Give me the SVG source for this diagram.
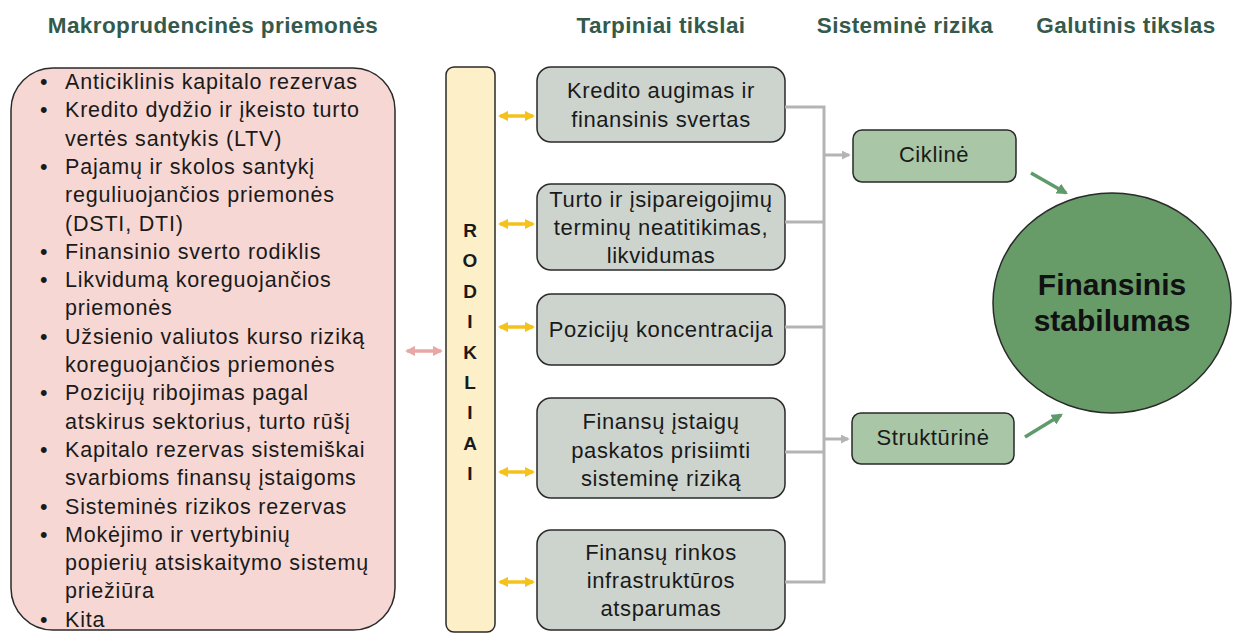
<svg xmlns="http://www.w3.org/2000/svg" width="1233" height="633" viewBox="0 0 1233 633">
<style>
.hdr{font-family:"Liberation Sans",Arial,sans-serif;font-weight:bold;font-size:22.5px;letter-spacing:0.4px;fill:#35594b;text-anchor:middle}
.lst{font-family:"Liberation Sans",Arial,sans-serif;font-size:21.5px;letter-spacing:0.8px;fill:#1a1a1a}
.mid{font-family:"Liberation Sans",Arial,sans-serif;font-size:22px;letter-spacing:0.6px;fill:#1a1a1a;text-anchor:middle}
.rod{font-family:"Liberation Sans",Arial,sans-serif;font-weight:bold;font-size:19px;fill:#1a1a1a;text-anchor:middle}
.big{font-family:"Liberation Sans",Arial,sans-serif;font-weight:bold;font-size:30px;fill:#111;text-anchor:middle}
.box{fill:#cdd4ce;stroke:#2a2a2a;stroke-width:1.5}
.grn{fill:#a9c6a7;stroke:#2a2a2a;stroke-width:1.5}
.gl{stroke:#b3b5b3;stroke-width:3;fill:none}
.ya{stroke:#f4c21a;stroke-width:3.5;fill:none}
</style>
<defs>
<marker id="ay" viewBox="0 0 10 10" refX="8" refY="5" markerWidth="3" markerHeight="3" orient="auto-start-reverse"><path d="M0,0 L10,5 L0,10 z" fill="#f4c21a"/></marker>
<marker id="ap" viewBox="0 0 10 10" refX="8" refY="5" markerWidth="3" markerHeight="3" orient="auto-start-reverse"><path d="M0,0 L10,5 L0,10 z" fill="#e8a9a6"/></marker>
<marker id="ag" viewBox="0 0 10 10" refX="8" refY="5" markerWidth="3" markerHeight="3" orient="auto"><path d="M0,0 L10,5 L0,10 z" fill="#b3b5b3"/></marker>
<marker id="ad" viewBox="0 0 10 10" refX="8" refY="5" markerWidth="3.2" markerHeight="3.2" orient="auto"><path d="M0,0 L10,5 L0,10 z" fill="#5f9a6b"/></marker>
</defs>
<rect width="1233" height="633" fill="#ffffff"/>
<g id="headers">
<text class="hdr" x="213" y="33">Makroprudencinės priemonės</text>
<text class="hdr" x="661" y="33">Tarpiniai tikslai</text>
<text class="hdr" x="905" y="33">Sisteminė rizika</text>
<text class="hdr" x="1126" y="33">Galutinis tikslas</text>
</g>
<g id="instruments">
<rect x="11" y="68" width="384" height="562" rx="42" fill="#f6d7d3" stroke="#2a2a2a" stroke-width="1.5"/>
<g class="lst">
<text x="40" y="89">•</text><text x="65" y="89">Anticiklinis kapitalo rezervas</text>
<text x="40" y="117.3">•</text><text x="65" y="117.3">Kredito dydžio ir įkeisto turto</text>
<text x="65" y="145.6">vertės santykis (LTV)</text>
<text x="40" y="173.9">•</text><text x="65" y="173.9">Pajamų ir skolos santykį</text>
<text x="65" y="202.2">reguliuojančios priemonės</text>
<text x="65" y="230.5">(DSTI, DTI)</text>
<text x="40" y="258.8">•</text><text x="65" y="258.8">Finansinio sverto rodiklis</text>
<text x="40" y="287.1">•</text><text x="65" y="287.1">Likvidumą koreguojančios</text>
<text x="65" y="315.4">priemonės</text>
<text x="40" y="343.7">•</text><text x="65" y="343.7">Užsienio valiutos kurso riziką</text>
<text x="65" y="372">koreguojančios priemonės</text>
<text x="40" y="400.3">•</text><text x="65" y="400.3">Pozicijų ribojimas pagal</text>
<text x="65" y="428.6">atskirus sektorius, turto rūšį</text>
<text x="40" y="456.9">•</text><text x="65" y="456.9">Kapitalo rezervas sistemiškai</text>
<text x="65" y="485.2">svarbioms finansų įstaigoms</text>
<text x="40" y="513.5">•</text><text x="65" y="513.5">Sisteminės rizikos rezervas</text>
<text x="40" y="541.8">•</text><text x="65" y="541.8">Mokėjimo ir vertybinių</text>
<text x="65" y="570.1">popierių atsiskaitymo sistemų</text>
<text x="65" y="598.4">priežiūra</text>
<text x="40" y="626.7">•</text><text x="65" y="626.7">Kita</text>
</g>
</g>
<g id="rodikliai">
<rect x="446" y="67" width="49" height="565" rx="8" fill="#fdf0c9" stroke="#2a2a2a" stroke-width="1.5"/>
<text class="rod" x="470" y="237">R</text>
<text class="rod" x="470" y="267.4">O</text>
<text class="rod" x="470" y="297.8">D</text>
<text class="rod" x="470" y="328.2">I</text>
<text class="rod" x="470" y="358.6">K</text>
<text class="rod" x="470" y="389">L</text>
<text class="rod" x="470" y="419.4">I</text>
<text class="rod" x="470" y="449.8">A</text>
<text class="rod" x="470" y="480.2">I</text>
</g>
<g id="goal1">
<rect class="box" x="537" y="67" width="248" height="75" rx="14"/>
<text class="mid" x="661" y="98">Kredito augimas ir</text>
<text class="mid" x="661" y="127">finansinis svertas</text>
</g>
<g id="goal2">
<rect class="box" x="537" y="184" width="248" height="86" rx="14"/>
<text class="mid" x="661" y="207">Turto ir įsipareigojimų</text>
<text class="mid" x="661" y="235">terminų neatitikimas,</text>
<text class="mid" x="661" y="263">likvidumas</text>
</g>
<g id="goal3">
<rect class="box" x="537" y="294" width="248" height="71" rx="14"/>
<text class="mid" x="661" y="337">Pozicijų koncentracija</text>
</g>
<g id="goal4">
<rect class="box" x="537" y="398" width="248" height="100" rx="14"/>
<text class="mid" x="661" y="429">Finansų įstaigų</text>
<text class="mid" x="661" y="458">paskatos prisiimti</text>
<text class="mid" x="661" y="486">sisteminę riziką</text>
</g>
<g id="goal5">
<rect class="box" x="537" y="530" width="248" height="100" rx="14"/>
<text class="mid" x="661" y="560">Finansų rinkos</text>
<text class="mid" x="661" y="588">infrastruktūros</text>
<text class="mid" x="661" y="616">atsparumas</text>
</g>
<g id="cikline">
<rect class="grn" x="853" y="130" width="163" height="52" rx="9"/>
<text class="mid" x="934" y="162">Ciklinė</text>
</g>
<g id="strukturine">
<rect class="grn" x="852" y="413" width="162" height="51" rx="9"/>
<text class="mid" x="933" y="445">Struktūrinė</text>
</g>
<g id="stability">
<ellipse cx="1112" cy="303" rx="119" ry="110" fill="#679b68" stroke="#2a2a2a" stroke-width="1.5"/>
<text class="big" x="1112" y="295">Finansinis</text>
<text class="big" x="1112" y="331">stabilumas</text>
</g>
<g id="connectors">
<line x1="407" y1="351" x2="441" y2="351" stroke="#e8a9a6" stroke-width="3.5" marker-start="url(#ap)" marker-end="url(#ap)"/>
<line class="ya" x1="500" y1="116" x2="533" y2="116" marker-start="url(#ay)" marker-end="url(#ay)"/>
<line class="ya" x1="500" y1="224" x2="533" y2="224" marker-start="url(#ay)" marker-end="url(#ay)"/>
<line class="ya" x1="500" y1="327" x2="533" y2="327" marker-start="url(#ay)" marker-end="url(#ay)"/>
<line class="ya" x1="500" y1="472" x2="533" y2="472" marker-start="url(#ay)" marker-end="url(#ay)"/>
<line class="ya" x1="500" y1="582" x2="533" y2="582" marker-start="url(#ay)" marker-end="url(#ay)"/>
<path class="gl" d="M785,107 H824 V582 H785"/>
<path class="gl" d="M785,222 H824"/>
<path class="gl" d="M785,327 H824"/>
<path class="gl" d="M785,452 H824"/>
<line class="gl" x1="824" y1="155" x2="849" y2="155" marker-end="url(#ag)"/>
<line class="gl" x1="824" y1="439" x2="848" y2="439" marker-end="url(#ag)"/>
<line x1="1031" y1="173" x2="1066" y2="193" stroke="#5f9a6b" stroke-width="3.5" marker-end="url(#ad)"/>
<line x1="1025" y1="437" x2="1061" y2="415" stroke="#5f9a6b" stroke-width="3.5" marker-end="url(#ad)"/>
</g>
</svg>
